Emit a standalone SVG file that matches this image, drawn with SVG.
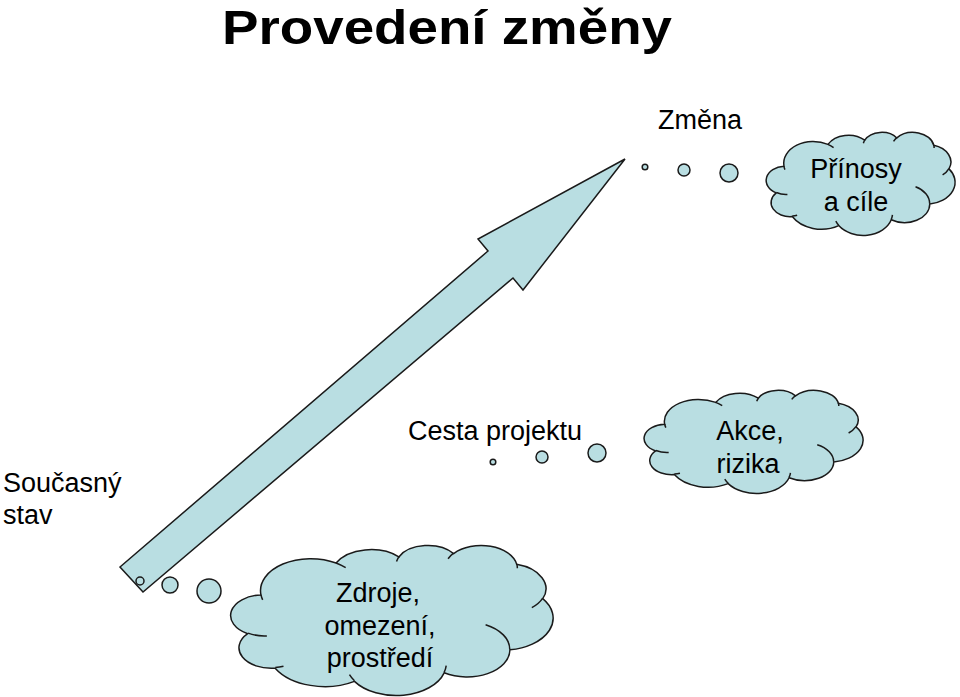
<svg xmlns="http://www.w3.org/2000/svg" width="960" height="697" viewBox="0 0 960 697">
<defs>
<style>
.sh{fill:#B9DEE2;stroke:#1a1a1a;stroke-width:1.5}
.cl{fill:#B9DEE2;stroke:#1a1a1a;stroke-width:1.5}
.ci{fill:none;stroke:#1a1a1a;stroke-width:1.5}
.t{font-family:"Liberation Sans",Arial,sans-serif;font-size:27px;fill:#000}
.tc{font-family:"Liberation Sans",Arial,sans-serif;font-size:27px;fill:#000;text-anchor:middle}
.title{font-family:"Liberation Sans",Arial,sans-serif;font-size:48px;font-weight:bold;fill:#000}
</style>
<path id="cloudOuter" vector-effect="non-scaling-stroke" d="M3900 14370A6753 9190 0 0 1 14005 5202A5333 7267 0 0 1 22456 3432A4365 5945 0 0 1 29833 2480A4857 6595 0 0 1 38318 5575A5333 7273 0 0 1 41818 15459A6775 9220 0 0 1 37403 30201A5785 7867 0 0 1 28555 36811A6752 9215 0 0 1 16480 39264A7720 10543 0 0 1 5806 35472A4360 5918 0 0 1 2114 25550A4345 5945 0 0 1 3900 14370Z"/>
<path id="cloudInner" vector-effect="non-scaling-stroke" d="M4693 26177A4345 5945 0 0 1 2160 25380M6928 34899A4360 5918 0 0 1 5820 35281M16478 39090A6752 9215 0 0 1 15809 37348M28827 34751A6752 9215 0 0 1 28560 36660M34129 22954A5785 7867 0 0 1 37380 30090M41798 15354A5333 7273 0 0 1 40350 18030M38324 5426A4857 6595 0 0 1 38401 6689M29078 3952A4857 6595 0 0 1 29820 2340M22141 4720A4365 5945 0 0 1 22500 3331M14000 5192A6753 9190 0 0 1 15299 6539M4127 15789A6753 9190 0 0 1 3900 14371"/>
</defs>
<rect width="960" height="697" fill="#fff"/>
<g id="title">
<text class="title" x="222" y="44" textLength="450" lengthAdjust="spacingAndGlyphs">Provedení změny</text>
</g>
<g id="arrow">
<polygon class="sh" points="120,567 488,251 478,239 625,159 523,290 513,278 143,592"/>
</g>
<g id="connectors">
<circle class="sh" cx="140" cy="581" r="4"/>
<circle class="sh" cx="170" cy="585" r="8"/>
<circle class="sh" cx="209" cy="591" r="12"/>
<circle class="sh" cx="645" cy="167" r="2.8"/>
<circle class="sh" cx="684" cy="170" r="6"/>
<circle class="sh" cx="729" cy="173" r="9"/>
<circle class="sh" cx="493" cy="462" r="2.8"/>
<circle class="sh" cx="542" cy="457" r="6"/>
<circle class="sh" cx="597" cy="453" r="9"/>
</g>
<g id="zmena">
<text class="t" x="658" y="129">Změna</text>
</g>
<g id="soucasny">
<text class="t" x="3" y="492">Současný</text>
<text class="t" x="3" y="524">stav</text>
</g>
<g id="cesta">
<text class="t" x="408" y="440">Cesta projektu</text>
</g>
<g id="prinosy">
<g transform="translate(767,132) scale(0.0043519,0.0023843)">
<use href="#cloudOuter" class="cl"/>
<use href="#cloudInner" class="ci"/>
</g>
<text class="tc" x="856" y="178">Přínosy</text>
<text class="tc" x="856" y="211">a cíle</text>
</g>
<g id="akce">
<g transform="translate(645,390) scale(0.0050463,0.0023843)">
<use href="#cloudOuter" class="cl"/>
<use href="#cloudInner" class="ci"/>
</g>
<text class="tc" x="750" y="440">Akce,</text>
<text class="tc" x="748" y="473">rizika</text>
</g>
<g id="zdroje">
<g transform="translate(232,545) scale(0.0074306,0.0034722)">
<use href="#cloudOuter" class="cl"/>
<use href="#cloudInner" class="ci"/>
</g>
<text class="tc" x="378" y="602">Zdroje,</text>
<text class="tc" x="380" y="635">omezení,</text>
<text class="tc" x="380" y="667">prostředí</text>
</g>
</svg>
